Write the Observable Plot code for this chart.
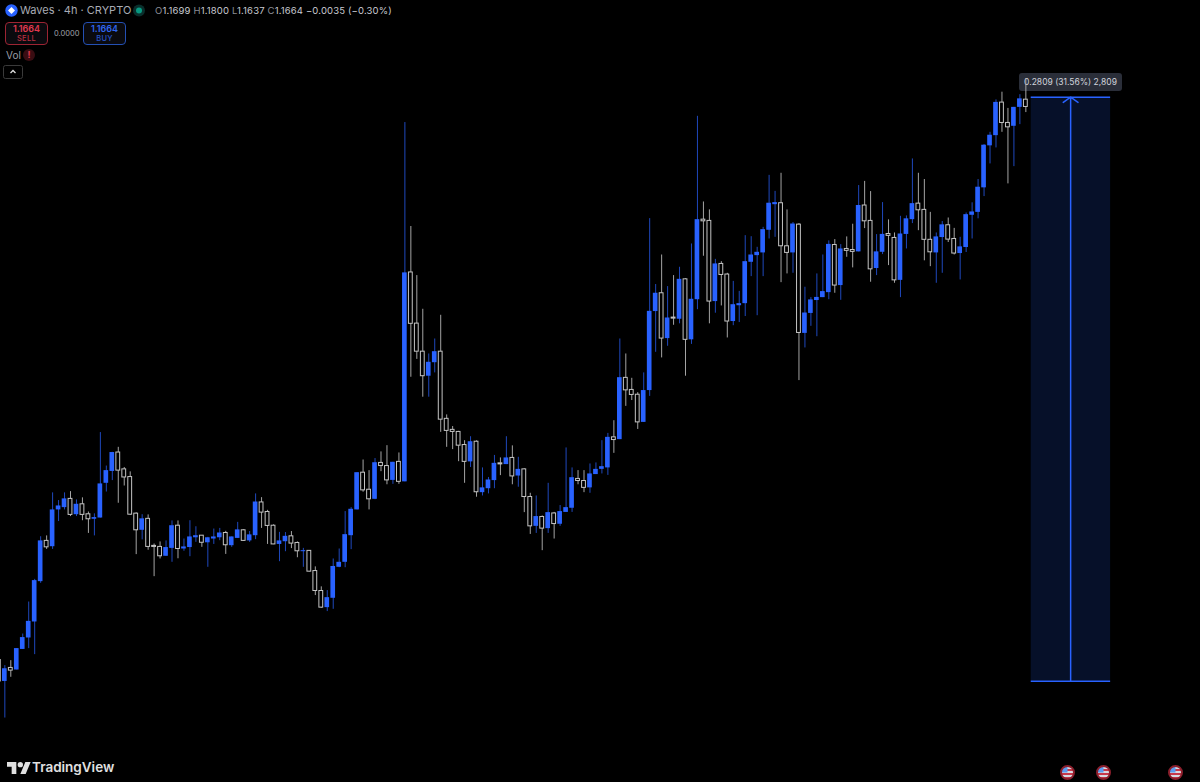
<!DOCTYPE html>
<html><head><meta charset="utf-8">
<style>
html,body{margin:0;padding:0;background:#000;width:1200px;height:782px;overflow:hidden}
#wrap{position:relative;width:1200px;height:782px;background:#000;overflow:hidden;font-family:Inter,"Noto Sans",sans-serif}
#chart{position:absolute;left:0;top:0;z-index:1}
.a{position:absolute;white-space:nowrap}
.lbl{z-index:0;left:1019px;top:73px;width:103px;height:18px;line-height:18px;background:#2a2e39;border-radius:3px;color:#d1d4dc;font-size:8.5px;text-align:center}
.top{z-index:2}
.box{z-index:2;top:22px;width:41px;height:20px;border-radius:4px;border:1px solid;background:#0a0a0e;text-align:center;font-size:9px;line-height:10px;font-weight:600;padding-top:1px}
.box small{display:block;font-size:7.5px;font-weight:500;opacity:.8;letter-spacing:.3px}
.ohlc{left:155px;top:5px;font-size:9.5px;color:#c8cad0;letter-spacing:.15px}
.ohlc i{font-style:normal;color:#8a8d96}
.flag{z-index:2;top:765px;width:11px;height:11px;border-radius:50%;border:2px solid #8a1f2c;
background:linear-gradient(#5a9cf0,#5a9cf0) left top/50% 50% no-repeat,repeating-linear-gradient(#d8d8e0 0 2px,#c8384a 2px 4px)}
</style>
<script src="https://cdn.jsdelivr.net/npm/d3@7"></script>
<script src="https://cdn.jsdelivr.net/npm/@observablehq/plot@0.6"></script>
</head><body>
<div id="wrap">
  <div class="a lbl">0.2809 (31.56%) 2,809</div>
  <div id="chart"></div>
  <svg class="a top" style="left:5px;top:4px" width="13" height="13" viewBox="0 0 13 13"><circle cx="6.5" cy="6.5" r="6.2" fill="#2962ff"/><path d="M6.5 3 10 6.5 6.5 10 3 6.5Z" fill="#fff"/></svg>
  <div class="a top" style="left:20px;top:3px;font-size:11px;color:#a8abb4;line-height:15px">Waves · 4h · CRYPTO</div>
  <svg class="a top" style="left:132px;top:4px" width="14" height="13"><circle cx="7" cy="6.5" r="6" fill="#0a2f2c"/><circle cx="7" cy="6.5" r="3" fill="#089981"/></svg>
  <div class="a top ohlc"><i>O</i>1.1699 <i>H</i>1.1800 <i>L</i>1.1637 <i>C</i>1.1664 −0.0035 (−0.30%)</div>
  <div class="a box" style="left:5px;border-color:#9c2433;color:#e0394f">1.1664<small>SELL</small></div>
  <div class="a top" style="left:54px;top:29px;font-size:7.5px;color:#a0a3ab">0.0000</div>
  <div class="a box" style="left:83px;border-color:#2450b4;color:#2f66ee">1.1664<small>BUY</small></div>
  <div class="a top" style="left:6px;top:49px;font-size:10px;color:#9a9da6">Vol</div>
  <div class="a top" style="left:23px;top:49px;width:12px;height:12px;border-radius:50%;background:#3a0d12;color:#e0394f;font-size:9px;line-height:12px;text-align:center;font-weight:700">!</div>
  <svg class="a top" style="left:3px;top:65px" width="20" height="14"><rect x=".5" y=".5" width="19" height="13" rx="2" fill="none" stroke="#3a3a3a"/><path d="M7.5 8 10 5.5 12.5 8" fill="none" stroke="#ddd" stroke-width="1.3"/></svg>
  <svg class="a top" style="left:7px;top:762px" width="24" height="12" viewBox="0 4 36 18"><path fill="#e0e0e0" d="M14 22H7V11H0V4h14v18zM28 22h-8l7.5-18h8L28 22z"/><circle cx="20" cy="8" r="4" fill="#e0e0e0"/></svg>
  <div class="a top" style="left:32px;top:758px;font-size:13.5px;font-weight:600;color:#e0e0e0;line-height:19px">TradingView</div>
  <div class="a flag" style="left:1060px"></div>
  <div class="a flag" style="left:1096px"></div>
  <div class="a flag" style="left:1168px"></div>
</div>
<script>
const firstIndex = -1;
const sides = ("WBWBBBBBWB"+"BBWBWWBBBB"+"WWWWBWWWBB"+"WBBBWBBBWB"+"BWBBWWWBBW"+"WBWWWBBBBB"+"BWWBWWBWBW"+"WWBBWWWWWB"+"WBBBWBWBWW"+
  "BWBWBBBWWB"+"BBBWBWWWBB"+"BWBWBWBBWW"+"BWWBBBBBBB"+"BWWBWBBBBB"+"WBWWBWWBBW"+"WBBBWWWBBW"+"WBBBBBBBWW"+"BBW").split("");
const highs = [0.9004,0.8977,0.9001,0.9059,0.9129,0.9283,0.9392,0.9597,0.9601,0.9808,
0.9771,0.9808,0.9814,0.9774,0.9784,0.9716,0.9707,1.0098,0.9937,1.0003,
1.0027,0.9930,0.9909,0.9712,0.9703,0.9702,0.9562,0.9572,0.9577,0.9673,
0.9673,0.9586,0.9674,0.9645,0.9602,0.9594,0.9634,0.9637,0.9623,0.9596,
0.9666,0.9631,0.9622,0.9803,0.9785,0.9724,0.9654,0.9618,0.9617,0.9622,
0.9572,0.9541,0.9530,0.9452,0.9356,0.9338,0.9490,0.9538,0.9718,0.9737,
0.9905,0.9966,0.9915,0.9973,1.0005,1.0035,0.9955,1.0000,1.1589,1.1089,
1.0853,1.0691,1.0476,1.0548,1.0662,1.0183,1.0127,1.0104,1.0059,1.0078,
1.0058,0.9928,0.9882,0.9988,0.9976,1.0078,1.0034,0.9979,0.9924,0.9806,
0.9793,0.9697,0.9854,0.9714,0.9747,1.0024,0.9928,0.9915,0.9915,0.9947,
0.9952,1.0059,1.0094,1.0155,1.0548,1.0476,1.0359,1.0290,1.0385,1.1127,
1.0810,1.0952,1.0800,1.0853,1.0893,1.0838,1.1005,1.1619,1.1207,1.1169,
1.0931,1.0920,1.0864,1.0825,1.0777,1.1045,1.1040,1.0989,1.1085,1.1335,
1.1258,1.1345,1.1169,1.1108,1.1103,1.0797,1.0747,1.0861,1.0952,1.1020,
1.1026,1.1002,1.1039,1.1100,1.1286,1.1306,1.1257,1.1050,1.1204,1.1121,
1.1058,1.1138,1.1140,1.1414,1.1345,1.1315,1.1157,1.1058,1.1113,1.1130,
1.1080,1.1037,1.1154,1.1203,1.1315,1.1483,1.1542,1.1698,1.1735,1.1657,
1.1662,1.1723,1.1800];
const bodyTops = [0.9004,0.8962,0.8966,0.9059,0.9112,0.9190,0.9386,0.9577,0.9577,0.9726,
0.9745,0.9779,0.9779,0.9753,0.9753,0.9705,0.9689,0.9851,0.9915,1.0002,
1.0002,0.9921,0.9884,0.9708,0.9683,0.9683,0.9553,0.9548,0.9545,0.9650,
0.9650,0.9548,0.9596,0.9602,0.9602,0.9592,0.9596,0.9615,0.9615,0.9596,
0.9630,0.9628,0.9606,0.9764,0.9762,0.9716,0.9650,0.9577,0.9599,0.9599,
0.9567,0.9530,0.9529,0.9432,0.9336,0.9304,0.9454,0.9474,0.9607,0.9729,
0.9905,0.9905,0.9823,0.9953,0.9952,0.9937,0.9955,0.9957,1.0866,1.0868,
1.0622,1.0487,1.0436,1.0487,1.0487,1.0164,1.0111,1.0101,1.0038,1.0054,
1.0054,0.9832,0.9870,0.9950,0.9950,0.9976,0.9976,0.9921,0.9921,0.9788,
0.9694,0.9692,0.9713,0.9709,0.9718,0.9737,0.9881,0.9875,0.9865,0.9899,
0.9921,0.9934,1.0075,1.0075,1.0362,1.0361,1.0303,1.0280,1.0300,1.0681,
1.0768,1.0768,1.0649,1.0651,1.0835,1.0835,1.0739,1.1122,1.1122,1.1116,
1.0909,1.0909,1.0858,1.0713,1.0718,1.0920,1.0952,1.0965,1.1074,1.1201,
1.1204,1.1201,1.0994,1.1101,1.1098,1.0673,1.0736,1.0748,1.0776,1.1003,
1.1000,1.0981,1.0981,1.0976,1.1190,1.1190,1.1116,1.0967,1.1051,1.1053,
1.1034,1.1053,1.1126,1.1199,1.1199,1.1169,1.1025,1.1039,1.1097,1.1095,
1.1029,1.0991,1.1146,1.1159,1.1278,1.1480,1.1528,1.1686,1.1685,1.1587,
1.1662,1.1703,1.1699];
const bodyBottoms = [0.8901,0.8901,0.8953,0.8956,0.9055,0.9110,0.9187,0.9381,0.9546,0.9549,
0.9726,0.9737,0.9702,0.9703,0.9702,0.9681,0.9681,0.9687,0.9854,0.9911,
0.9915,0.9882,0.9703,0.9628,0.9628,0.9548,0.9548,0.9503,0.9503,0.9541,
0.9538,0.9538,0.9545,0.9592,0.9568,0.9568,0.9586,0.9592,0.9556,0.9554,
0.9589,0.9577,0.9577,0.9602,0.9713,0.9649,0.9560,0.9560,0.9573,0.9564,
0.9527,0.9525,0.9429,0.9336,0.9256,0.9256,0.9301,0.9450,0.9474,0.9602,
0.9726,0.9820,0.9777,0.9777,0.9937,0.9868,0.9868,0.9861,0.9861,1.0621,
1.0487,1.0369,1.0369,1.0434,1.0160,1.0106,1.0101,1.0035,0.9957,0.9957,
0.9811,0.9809,0.9828,0.9867,0.9945,0.9944,0.9887,0.9889,0.9788,0.9647,
0.9647,0.9636,0.9636,0.9658,0.9657,0.9714,0.9734,0.9865,0.9832,0.9832,
0.9896,0.9921,0.9928,1.0062,1.0064,1.0301,1.0279,1.0147,1.0147,1.0300,
1.0680,1.0550,1.0550,1.0646,1.0643,1.0544,1.0544,1.0737,1.1114,1.0728,
1.0728,1.0856,1.0632,1.0632,1.0708,1.0718,1.0917,1.0949,1.0962,1.1071,
1.1194,1.0994,1.0962,1.0962,1.0577,1.0575,1.0671,1.0733,1.0747,1.0771,
1.0805,1.0805,1.0972,1.0967,1.0967,1.1114,1.0883,1.0887,1.0965,1.1044,
1.0830,1.0830,1.1051,1.1122,1.1167,1.1025,1.0965,1.0962,1.1036,1.1026,
1.0959,1.0959,1.0988,1.1143,1.1157,1.1275,1.1477,1.1526,1.1587,1.1566,
1.1571,1.1662,1.1664];
const lows = [0.8901,0.8725,0.8921,0.8956,0.9055,0.9059,0.9030,0.9373,0.9536,0.9536,
0.9670,0.9726,0.9694,0.9694,0.9674,0.9613,0.9601,0.9687,0.9812,0.9867,
0.9758,0.9841,0.9700,0.9511,0.9582,0.9532,0.9405,0.9490,0.9503,0.9474,
0.9491,0.9527,0.9501,0.9570,0.9546,0.9450,0.9560,0.9578,0.9512,0.9546,
0.9589,0.9575,0.9570,0.9583,0.9637,0.9560,0.9559,0.9477,0.9525,0.9540,
0.9496,0.9450,0.9428,0.9314,0.9253,0.9237,0.9248,0.9448,0.9448,0.9535,
0.9726,0.9811,0.9726,0.9775,0.9910,0.9847,0.9849,0.9849,0.9861,1.0364,
1.0450,1.0268,1.0268,1.0385,1.0099,1.0027,1.0016,0.9958,0.9854,0.9930,
0.9787,0.9793,0.9803,0.9828,0.9891,0.9944,0.9847,0.9835,0.9713,0.9608,
0.9613,0.9530,0.9613,0.9586,0.9647,0.9714,0.9714,0.9847,0.9809,0.9806,
0.9896,0.9899,0.9892,0.9998,1.0064,1.0224,1.0252,1.0113,1.0147,1.0272,
1.0484,1.0457,1.0513,1.0614,1.0621,1.0369,1.0522,1.0689,1.0946,1.0621,
1.0672,1.0707,1.0553,1.0612,1.0627,1.0656,1.0848,1.0660,1.0848,1.1029,
1.1037,1.0819,1.0861,1.0864,1.0348,1.0505,1.0609,1.0559,1.0747,1.0737,
1.0768,1.0734,1.0941,1.0890,1.0967,1.1079,1.0821,1.0853,1.0954,1.0901,
1.0816,1.0747,1.0981,1.1103,1.1069,1.0924,1.0896,1.0816,1.0864,1.1012,
1.0952,1.0832,1.0964,1.1029,1.1126,1.1233,1.1390,1.1467,1.1542,1.1294,
1.1377,1.1579,1.1637];
const measureLow = 0.8902, measureHigh = 1.1711;
const measureFrom = 171.9, measureTo = 185.2, measureMid = 178.5;
const candles = sides.map((s,k)=>({i:k+firstIndex,side:s,high:highs[k],top:bodyTops[k],bottom:bodyBottoms[k],low:lows[k]}));
const up = candles.filter(d=>d.side==="B"), down = candles.filter(d=>d.side==="W");
const blue = "#2962ff";
const plot = Plot.plot({
  width:1200,height:782,margin:0,
  style:{background:"transparent"},
  x:{type:"linear",domain:[-0.725,200.25],axis:null},
  y:{type:"linear",domain:[0.8415,1.2176],axis:null},
  marks:[
    Plot.rect([0],{x1:measureFrom,x2:measureTo,y1:measureLow,y2:measureHigh,fill:"#061029"}),
    Plot.ruleY([measureLow,measureHigh],{x1:measureFrom,x2:measureTo,stroke:blue,strokeWidth:1.5}),
    Plot.arrow([0],{x1:measureMid,x2:measureMid,y1:measureLow,y2:measureHigh,stroke:blue,strokeWidth:1.5,headAngle:110,headLength:9}),
    Plot.ruleX(up,{x:"i",y1:"low",y2:"high",stroke:"#1f48bc",strokeWidth:1}),
    Plot.ruleX(down,{x:"i",y1:"low",y2:"high",stroke:"#a4a4a4",strokeWidth:1}),
    Plot.rect(up,{x1:d=>d.i-0.39,x2:d=>d.i+0.39,y1:"bottom",y2:"top",fill:blue}),
    Plot.rect(down,{x1:d=>d.i-0.32,x2:d=>d.i+0.32,y1:"bottom",y2:"top",fill:"#000",stroke:"#c4c4c4",strokeWidth:1})
  ]
});
document.getElementById("chart").appendChild(plot);
</script>
</body></html>
